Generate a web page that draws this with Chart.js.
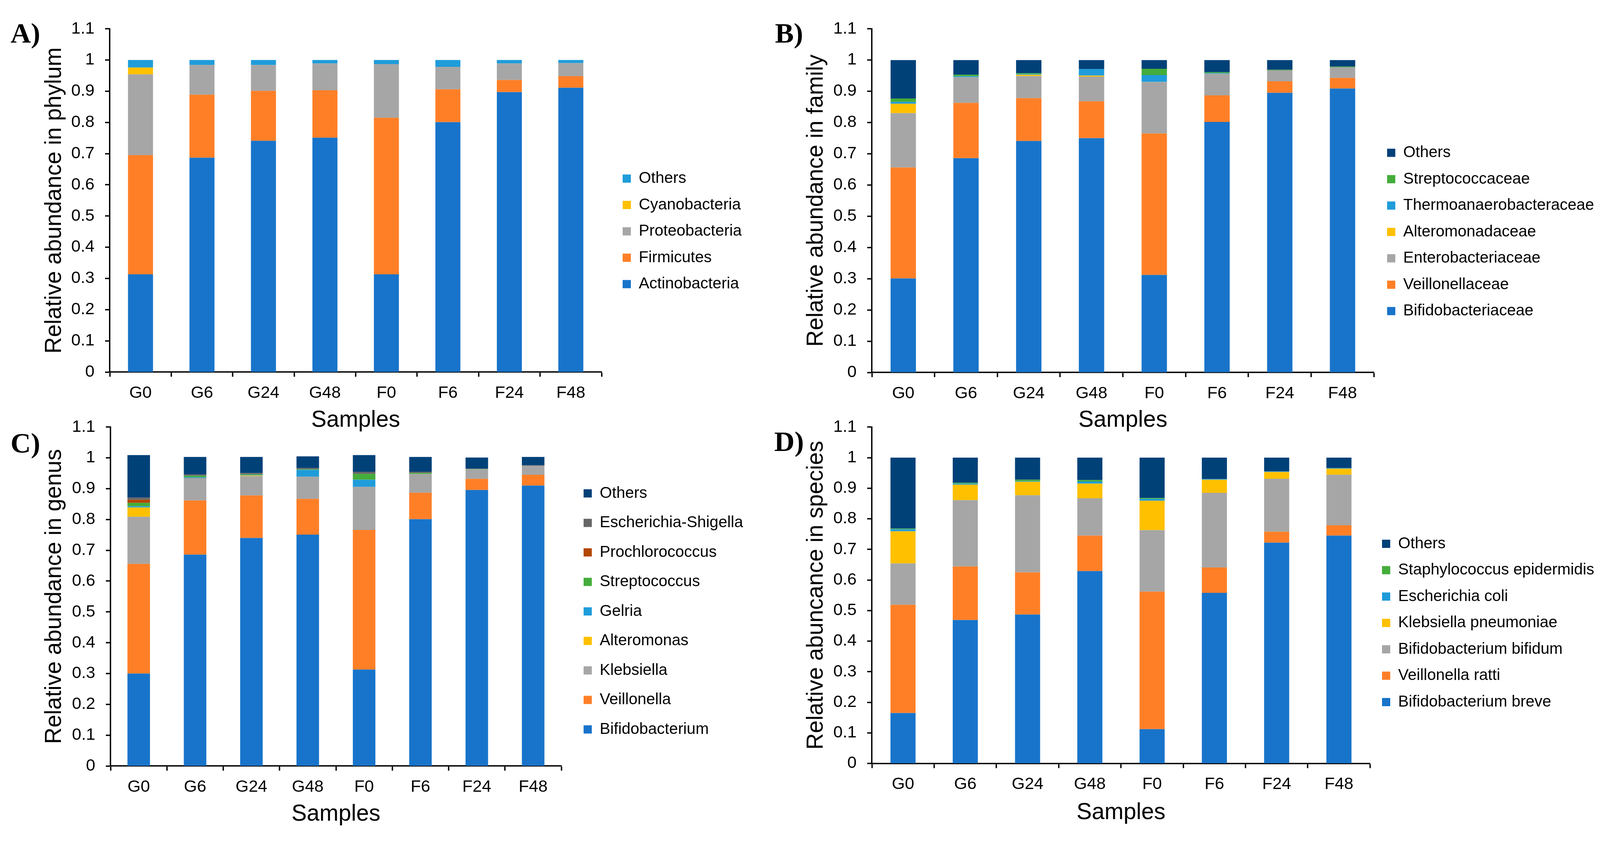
<!DOCTYPE html>
<html><head><meta charset="utf-8">
<script src="https://cdn.jsdelivr.net/npm/chart.js@4.4.1/dist/chart.umd.min.js"></script>
<style>
html,body{margin:0;padding:0;background:#fff;}
#page{position:relative;width:4111px;height:2152px;background:#fff;overflow:hidden;}
canvas{position:absolute;}
</style></head><body><div id="page">
<canvas id="cA"></canvas><canvas id="cB"></canvas><canvas id="cC"></canvas><canvas id="cD"></canvas>
</div>
<script>
// ---------- data ----------
const samples = ['G0','G6','G24','G48','F0','F6','F24','F48'];
const yTickLabels = ['0','0.1','0.2','0.3','0.4','0.5','0.6','0.7','0.8','0.9','1','1.1'];

// A) phylum
const phylumNames = ['Actinobacteria','Firmicutes','Proteobacteria','Cyanobacteria','Others'];
const phylumActinobacteria = [0.313,0.687,0.741,0.751,0.313,0.801,0.897,0.911];
const phylumFirmicutes     = [0.382,0.202,0.160,0.152,0.502,0.105,0.039,0.037];
const phylumProteobacteria = [0.259,0.095,0.083,0.086,0.172,0.072,0.053,0.042];
const phylumCyanobacteria  = [0.022,0,0,0,0,0,0,0];
const phylumOthers         = [0.024,0.016,0.016,0.011,0.013,0.022,0.011,0.010];

// B) family
const familyNames = ['Bifidobacteriaceae','Veillonellaceae','Enterobacteriaceae','Alteromonadaceae','Thermoanaerobacteraceae','Streptococcaceae','Others'];
const familyBifidobacteriaceae      = [0.301,0.686,0.741,0.750,0.312,0.802,0.895,0.909];
const familyVeillonellaceae         = [0.355,0.177,0.137,0.118,0.453,0.085,0.037,0.034];
const familyEnterobacteriaceae      = [0.174,0.082,0.071,0.079,0.165,0.069,0.035,0.034];
const familyAlteromonadaceae        = [0.030,0,0.004,0.003,0,0,0,0];
const familyThermoanaerobacteraceae = [0.006,0.003,0.002,0.021,0.022,0.002,0,0];
const familyStreptococcaceae        = [0.011,0.005,0.003,0,0.020,0.003,0.002,0.002];
const familyOthers                  = [0.123,0.047,0.042,0.029,0.028,0.039,0.031,0.021];

// C) genus
const genusNames = ['Bifidobacterium','Veillonella','Klebsiella','Alteromonas','Gelria','Streptococcus','Prochlorococcus','Escherichia-Shigella','Others'];
const genusBifidobacterium = [0.300,0.686,0.740,0.751,0.313,0.801,0.896,0.910];
const genusVeillonella     = [0.356,0.176,0.138,0.116,0.453,0.086,0.036,0.035];
const genusKlebsiella      = [0.153,0.073,0.063,0.072,0.140,0.061,0.031,0.029];
const genusAlteromonas     = [0.030,0,0.002,0,0,0,0,0];
const genusGelria          = [0.004,0.002,0.002,0.022,0.023,0,0,0];
const genusStreptococcus   = [0.011,0.005,0.002,0.002,0.019,0.003,0.001,0];
const genusProchlorococcus = [0.010,0,0,0,0,0,0,0];
const genusEscherichia     = [0.007,0.004,0.004,0.004,0.007,0.004,0.001,0.002];
const genusOthers          = [0.138,0.057,0.052,0.038,0.054,0.048,0.036,0.027];

// D) species
const speciesNames = ['Bifidobacterium breve','Veillonella ratti','Bifidobacterium bifidum','Klebsiella pneumoniae','Escherichia coli','Staphylococcus epidermidis','Others'];
const speciesBreve      = [0.165,0.469,0.487,0.629,0.112,0.558,0.722,0.745];
const speciesRatti      = [0.354,0.175,0.138,0.116,0.450,0.083,0.036,0.034];
const speciesBifidum    = [0.135,0.217,0.252,0.122,0.201,0.244,0.173,0.165];
const speciesKlebsiella = [0.105,0.051,0.044,0.048,0.096,0.043,0.022,0.020];
const speciesEcoli      = [0.007,0.003,0.002,0.007,0.006,0.002,0.002,0.002];
const speciesStaph      = [0.002,0.003,0.005,0.005,0.003,0,0,0];
const speciesOthers     = [0.232,0.082,0.072,0.073,0.132,0.070,0.045,0.034];

// ---------- styles ----------
const BLUE='#1874CA', ORANGE='#FF7F27', GRAY='#A6A6A6', YELLOW='#FFC000',
      LBLUE='#1F9CDA', GREEN='#44AD3B', NAVY='#004178', BROWN='#B34700', DGRAY='#666666';
const SANS='"Liberation Sans", Arial, sans-serif';
const SERIF='"Liberation Serif", "Times New Roman", serif';
Chart.defaults.color='#000';
Chart.defaults.font.family=SANS;

const legendNudge = {
  id:'legendNudge',
  afterLayout(chart, args, opts){
    const lg = chart.legend; if(!lg) return;
    const pad = lg.options.labels.padding;
    const dx = opts.boxX - (lg.left + pad);
    const dy = opts.centerY - (lg.top + lg.bottom)/2;
    lg.left += dx;
    lg.right = chart.width;
    lg.top += dy; lg.bottom += dy;
  }
};

const TICK=43, TITLE=58.5, LEG=40.5, PANEL=72;

const panels = [
  {id:'cA', x:0, y:0, W:1960, H:1130, label:'A)', ytitle:'Relative abundance in phylum',
   names:phylumNames, series:[phylumActinobacteria,phylumFirmicutes,phylumProteobacteria,phylumCyanobacteria,phylumOthers],
   colors:[BLUE,ORANGE,GRAY,YELLOW,LBLUE],
   plotLeft:281, plotRight:1540, plotTop:73.7, plotBottom:952, padLeft:27, padTop:20, labelY:90,
   yTitleX:139.5, xTitleY:1076, boxX:1594, centerY:592, legPad:27, bar:0.407},
  {id:'cB', x:1960, y:0, W:2151, H:1130, label:'B)', ytitle:'Relative abundance in family',
   names:familyNames, series:[familyBifidobacteriaceae,familyVeillonellaceae,familyEnterobacteriaceae,familyAlteromonadaceae,familyThermoanaerobacteraceae,familyStreptococcaceae,familyOthers],
   colors:[BLUE,ORANGE,GRAY,YELLOW,LBLUE,GREEN,NAVY],
   plotLeft:272, plotRight:1536.5, plotTop:73.7, plotBottom:953, padLeft:24, padTop:20, labelY:90,
   yTitleX:130, xTitleY:1076, boxX:1591, centerY:593.5, legPad:27, bar:0.404},
  {id:'cC', x:0, y:1040, W:1960, H:1112, label:'C)', ytitle:'Relative abundance in genus',
   names:genusNames, series:[genusBifidobacterium,genusVeillonella,genusKlebsiella,genusAlteromonas,genusGelria,genusStreptococcus,genusProchlorococcus,genusEscherichia,genusOthers],
   colors:[BLUE,ORANGE,GRAY,YELLOW,LBLUE,GREEN,BROWN,DGRAY,NAVY],
   plotLeft:283, plotRight:1437, plotTop:41, plotBottom:920, padLeft:27, padTop:10, labelY:88,
   yTitleX:139.5, xTitleY:1044, boxX:1494, centerY:524.6, legPad:35, bar:0.4},
  {id:'cD', x:1960, y:1040, W:2151, H:1112, label:'D)', ytitle:'Relative abuncance in species',
   names:speciesNames, series:[speciesBreve,speciesRatti,speciesBifidum,speciesKlebsiella,speciesEcoli,speciesStaph,speciesOthers],
   colors:[BLUE,ORANGE,GRAY,YELLOW,LBLUE,GREEN,NAVY],
   plotLeft:272, plotRight:1523.6, plotTop:34.6, plotBottom:913.5, padLeft:22, padTop:10, labelY:77.5,
   yTitleX:130, xTitleY:1040, boxX:1578, centerY:554, legPad:27, bar:0.403}
];

const XH = 170;
panels.forEach(p=>{
  const cv = document.getElementById(p.id);
  cv.width = p.W; cv.height = p.H;
  cv.style.left = p.x+'px'; cv.style.top = p.y+'px';
  cv.style.width = p.W+'px'; cv.style.height = p.H+'px';
  const lhP = PANEL*1.2, lhT = TITLE*1.2;
  const tPadTop = p.labelY - p.padTop - lhP/2;
  const tPadBottom = (p.plotTop - p.padTop) - lhP - tPadTop;
  const yW = p.plotLeft - p.padLeft;
  const padBottom = p.H - p.plotBottom - XH;
  const chart = new Chart(cv, {
    type:'bar',
    data:{
      labels:samples,
      datasets:p.series.map((s,i)=>({label:p.names[i], data:s, backgroundColor:p.colors[i], borderWidth:0,
        barPercentage:p.bar, categoryPercentage:1}))
    },
    options:{
      responsive:false, animation:false,
      layout:{padding:{left:p.padLeft, top:p.padTop, right:0, bottom:padBottom}},
      plugins:{
        title:{display:true, text:p.label, align:'start', color:'#000',
          font:{family:SERIF, size:PANEL, weight:'bold', lineHeight:1.2},
          padding:{top:tPadTop, bottom:tPadBottom}},
        legend:{display:true, position:'right', reverse:true,
          labels:{boxWidth:21, boxHeight:21, padding:p.legPad, color:'#000', font:{family:SANS, size:LEG}}},
        tooltip:{enabled:false},
        legendNudge:{boxX:p.boxX, centerY:p.centerY}
      },
      scales:{
        x:{stacked:true, offset:true,
          grid:{display:true, drawOnChartArea:false, drawTicks:true, tickLength:12, tickWidth:3.5, tickColor:'#000', color:'#000', offset:true},
          border:{display:true, color:'#000', width:3.5},
          ticks:{color:'#000', font:{size:TICK}, padding:16, maxRotation:0, autoSkip:false},
          title:{display:true, text:'Samples', color:'#000', font:{size:TITLE, lineHeight:1.2},
            padding:{top:0, bottom:(p.plotBottom + XH) - p.xTitleY - lhT/2}},
          afterFit:s=>{s.height = XH;}
        },
        y:{stacked:true, min:0, max:1.1,
          grid:{display:true, drawOnChartArea:false, drawTicks:true, tickLength:12, tickWidth:3.5, tickColor:'#000', color:'#000'},
          border:{display:true, color:'#000', width:3.5},
          ticks:{stepSize:0.1, color:'#000', font:{size:TICK}, padding:27,
            callback:(v,i)=>yTickLabels[i]},
          title:{display:true, text:p.ytitle, color:'#000', font:{size:TITLE, lineHeight:1.2},
            padding:{top:p.yTitleX - p.padLeft - lhT/2, bottom:0}},
          afterFit:s=>{s.width = yW;}
        }
      }
    },
    plugins:[legendNudge]
  });
  const delta = chart.chartArea.right - p.plotRight;
  chart.options.layout.padding.right = delta;
  chart.update();
});
</script>
</body></html>
